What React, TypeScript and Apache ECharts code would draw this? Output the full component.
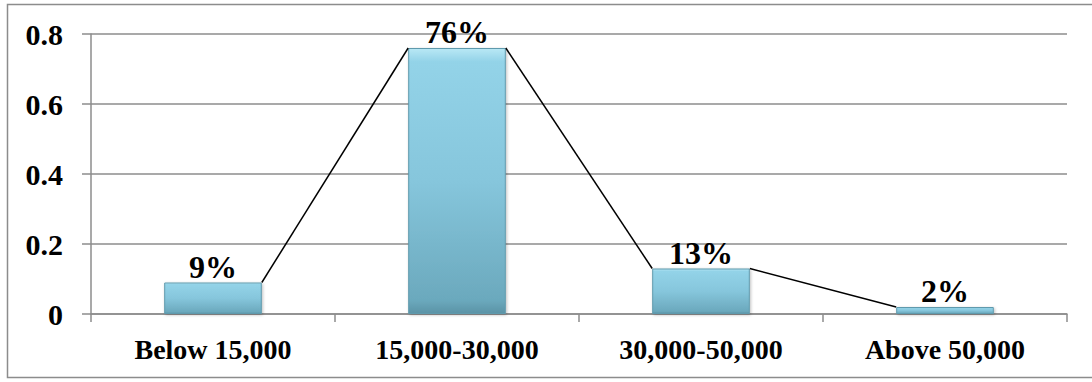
import React, { useEffect, useRef } from "react";
import * as echarts from "echarts";

const categories = ["Below 15,000", "15,000-30,000", "30,000-50,000", "Above 50,000"];
const values = [0.09, 0.76, 0.13, 0.02];
const yTicks = { min: 0, max: 0.8, interval: 0.2 };

const FONT = "'Liberation Serif', 'Times New Roman', serif";

export default function App() {
  const ref = useRef<HTMLDivElement>(null);
  useEffect(() => {
    document.body.style.margin = "0";
    if (!ref.current) return;
    const chart = echarts.init(ref.current, null, { renderer: "svg" });
    const barRatio = 0.4;
    const lineData = values.slice(0, -1).map((v, i) => [i, v, values[i + 1]]);
    chart.setOption({
      animation: false,
      graphic: [
        {
          type: "rect",
          shape: { x: 7.5, y: 4.5, width: 1100, height: 373 },
          style: { fill: "none", stroke: "#8c8c8c", lineWidth: 1.5 },
          silent: true,
        },
      ],
      grid: { left: 91, right: 25, top: 34, bottom: 68 },
      xAxis: {
        type: "category",
        data: categories,
        axisLine: { lineStyle: { color: "#8c8c8c", width: 1.5 } },
        axisTick: { show: true, length: 8, lineStyle: { color: "#8c8c8c", width: 1.5 } },
        axisLabel: {
          margin: 21,
          fontFamily: FONT,
          fontWeight: "bold",
          fontSize: 28,
          color: "#000",
        },
      },
      yAxis: {
        type: "value",
        min: yTicks.min,
        max: yTicks.max,
        interval: yTicks.interval,
        axisLine: { show: true, lineStyle: { color: "#8c8c8c", width: 1.5 } },
        axisTick: { show: true, length: 9, lineStyle: { color: "#8c8c8c", width: 1.5 } },
        splitLine: { show: true, lineStyle: { color: "#8c8c8c", width: 1.5 } },
        axisLabel: {
          margin: 28,
          fontFamily: FONT,
          fontWeight: "bold",
          fontSize: 30,
          color: "#000",
          formatter: (v: number) => (v === 0 ? "0" : String(Math.round(v * 10) / 10)),
        },
      },
      series: [
        {
          type: "bar",
          data: values,
          barWidth: "40%",
          itemStyle: {
            color: new echarts.graphic.LinearGradient(0, 0, 0, 1, [
              { offset: 0, color: "#b9e8f5" },
              { offset: 0.05, color: "#93d3e8" },
              { offset: 0.5, color: "#86c6dc" },
              { offset: 0.95, color: "#6ba9bd" },
              { offset: 1, color: "#5b93a6" },
            ]),
            borderColor: "#5f9aad",
            borderWidth: 1,
            shadowColor: "rgba(0,0,0,0.25)",
            shadowBlur: 3,
            shadowOffsetX: 1,
            shadowOffsetY: 1,
          },
          label: {
            show: true,
            position: "top",
            distance: 0,
            fontFamily: FONT,
            fontWeight: "bold",
            fontSize: 32,
            color: "#000",
            formatter: (p: any) => Math.round(p.value * 100) + "%",
          },
          z: 2,
        },
        {
          type: "custom",
          data: lineData,
          z: 3,
          renderItem: (params: any, api: any) => {
            const i = api.value(0);
            const p1 = api.coord([i, api.value(1)]);
            const p2 = api.coord([i + 1, api.value(2)]);
            const bw = api.size([1, 0])[0] * barRatio;
            return {
              type: "line",
              shape: { x1: p1[0] + bw / 2, y1: p1[1], x2: p2[0] - bw / 2, y2: p2[1] },
              style: { stroke: "#000", lineWidth: 1.5 },
            };
          },
        },
      ],
    });
    return () => chart.dispose();
  }, []);
  return <div ref={ref} style={{ width: 1092, height: 382 }} />;
}
